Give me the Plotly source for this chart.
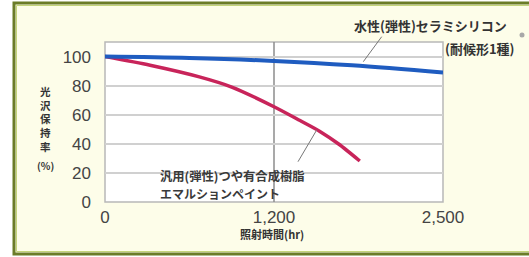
import plotly.graph_objects as go

# ---- data ----
blue_hours = [0, 600, 1200, 1800, 2500]
blue_vals = [100, 99, 97, 94, 89]
red_hours = [0, 320, 670, 900, 1200, 1400, 1550, 1700, 1860]
red_vals = [100, 94, 86, 79, 65.5, 56, 48.7, 39.7, 28.2]
x_tick_hours = [0, 1200, 2500]
x_tick_text = ["0", "1,200", "2,500"]
y_tick_vals = [0, 20, 40, 60, 80, 100]
blue_name = "水性(弾性)セラミシリコン"
blue_sub = "(耐候形1種)"
red_line1 = "汎用(弾性)つや有合成樹脂"
red_line2 = "エマルションペイント"
x_title = "照射時間(hr)"
y_title_chars = ["光", "沢", "保", "持", "率"]
y_title_unit = "(%)"

W, H = 529, 257
L, R, T, B = 105, 443, 42, 202


def pos(h):
    # the reference axis puts 1,200 h at the middle and 2,500 h at the end
    return h if h <= 1200 else 1200 + (h - 1200) * 1200 / 1300


def px(x):
    return (x - L) / (R - L)


def py(y):
    return (B - y) / (B - T)


fig = go.Figure()
fig.add_trace(go.Scatter(x=[pos(h) for h in red_hours], y=red_vals, mode="lines",
                         line=dict(color="#c8245a", width=3.5, shape="spline", smoothing=0.7),
                         showlegend=False, hoverinfo="skip"))
fig.add_trace(go.Scatter(x=[pos(h) for h in blue_hours], y=blue_vals, mode="lines",
                         line=dict(color="#1f5cc0", width=4, shape="spline"),
                         showlegend=False, hoverinfo="skip"))

shapes = [
    # outer frame
    dict(type="rect", xref="paper", yref="paper", x0=px(14), x1=px(540), y0=py(254), y1=py(3),
         line=dict(color="#6b7c28", width=3), fillcolor="#fdfde9", layer="below"),
    dict(type="rect", xref="paper", yref="paper", x0=px(16.5), x1=px(540), y0=py(251.5), y1=py(5.5),
         line=dict(color="#c4d47a", width=1), fillcolor="rgba(0,0,0,0)", layer="below"),
    # plot area background
    dict(type="rect", xref="paper", yref="paper", x0=0, x1=1, y0=0, y1=1,
         line=dict(color="#b8b8b8", width=1.5), fillcolor="white", layer="below"),
    # vertical line at 1,200
    dict(type="line", xref="x", yref="paper", x0=pos(1200), x1=pos(1200), y0=0, y1=1,
         line=dict(color="#8c8c8c", width=1.5), layer="below"),
    # leader lines
    dict(type="line", xref="paper", yref="paper", x0=px(381.7), y0=py(36.7), x1=px(363.3), y1=py(61.7),
         line=dict(color="#777777", width=1)),
    dict(type="line", xref="paper", yref="paper", x0=px(316.7), y0=py(130), x1=px(298), y1=py(161.7),
         line=dict(color="#777777", width=1)),
    # small dot
    dict(type="circle", xref="paper", yref="paper", x0=px(519.5), x1=px(524.5), y0=py(37.5), y1=py(32.5),
         line=dict(width=0), fillcolor="#a8a8a8"),
]

jp = "Noto Sans CJK JP"
ann = [
    dict(text="<b>%s</b>" % blue_name, x=px(430), y=py(25), font=dict(size=13, color="#333333", family=jp)),
    dict(text="<b>%s</b>" % blue_sub, x=px(480), y=py(48), font=dict(size=13, color="#333333", family=jp)),
    dict(text="<b>%s</b>" % red_line1, x=px(158), y=py(175.5), xanchor="left",
         font=dict(size=12.3, color="#3a3a3a", family=jp)),
    dict(text="<b>%s</b>" % red_line2, x=px(158), y=py(193.5), xanchor="left",
         font=dict(size=12, color="#3a3a3a", family=jp)),
    dict(text="<b>%s</b>" % x_title, x=px(272), y=py(234), font=dict(size=11, color="#333333", family=jp)),
    dict(text="<b>%s</b>" % "<br>".join(y_title_chars), x=px(45), y=py(119),
         font=dict(size=10.5, color="#333333", family=jp)),
    dict(text="<b>%s</b>" % y_title_unit, x=px(45), y=py(165), font=dict(size=10, color="#333333", family=jp)),
]
for a in ann:
    a.update(xref="paper", yref="paper", showarrow=False, yanchor=a.get("yanchor", "middle"),
             xanchor=a.get("xanchor", "center"))

fig.update_layout(
    width=W, height=H,
    margin=dict(l=L, r=W - R, t=T, b=H - B),
    paper_bgcolor="white", plot_bgcolor="rgba(0,0,0,0)",
    shapes=shapes, annotations=ann,
    xaxis=dict(range=[0, pos(2500)], tickvals=[pos(h) for h in x_tick_hours], ticktext=x_tick_text,
               showgrid=False, zeroline=False, showline=False, ticks="",
               tickfont=dict(family="Liberation Sans", size=17, color="#444444"),
               ticklabelstandoff=3, fixedrange=True),
    yaxis=dict(range=[0, 110], tickvals=y_tick_vals, showgrid=True, gridcolor="#d0d0d0", gridwidth=1.5,
               zeroline=False, showline=False, ticks="",
               tickfont=dict(family="Liberation Sans", size=17, color="#444444"),
               ticklabelstandoff=13, fixedrange=True),
)

fig.write_html("out.html", config={"displayModeBar": False},
               post_script="document.body.style.margin='0';")
